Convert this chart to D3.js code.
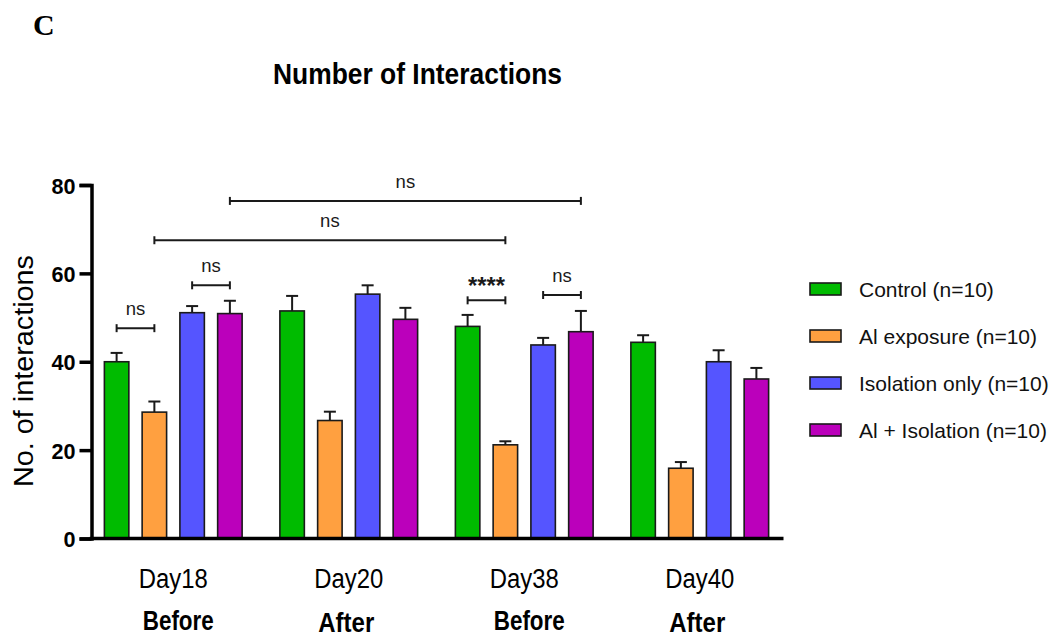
<!DOCTYPE html>
<html>
<head>
<meta charset="utf-8">
<script src="https://cdn.jsdelivr.net/npm/d3@7/dist/d3.min.js"></script>
<style>
  html, body { margin: 0; padding: 0; background: #fff; }
  svg { display: block; font-family: "Liberation Sans", Arial, Helvetica, sans-serif; }
</style>
</head>
<body>
<svg id="chart" width="1054" height="638"></svg>
<script>
// Time points and their exposure phase
const days = ["Day18", "Day20", "Day38", "Day40"];
const phases = ["Before", "After", "Before", "After"];

// Treatment groups
const groups = ["Control (n=10)", "Al exposure (n=10)", "Isolation only (n=10)", "Al + Isolation (n=10)"];
const colors = ["#00bb00", "#ffa040", "#5555ff", "#bb00bb"];

// Mean number of interactions per group, one entry per day
const controlMean   = [40.0, 51.5, 48.0, 44.4];
const alMean        = [28.6, 26.7, 21.2, 15.9];
const isolationMean = [51.1, 55.3, 43.8, 40.0];
const alIsoMean     = [50.9, 49.6, 46.8, 36.1];

// Standard error of each mean
const controlSem   = [2.0, 3.4, 2.6, 1.6];
const alSem        = [2.4, 2.0, 0.8, 1.4];
const isolationSem = [1.5, 2.0, 1.6, 2.6];
const alIsoSem     = [2.9, 2.6, 4.7, 2.5];

const yTicks = [0, 20, 40, 60, 80];

// Pairwise comparisons: [day, group] -> [day, group], bracket level, label
const comparisons = [
  { from: [0, 0], to: [0, 1], level: 47.6, label: "ns" },
  { from: [0, 2], to: [0, 3], level: 57.3, label: "ns" },
  { from: [0, 1], to: [2, 1], level: 67.5, label: "ns" },
  { from: [0, 3], to: [2, 3], level: 76.4, label: "ns" },
  { from: [2, 0], to: [2, 1], level: 53.9, label: "****" },
  { from: [2, 2], to: [2, 3], level: 55.1, label: "ns" }
];

const means = [controlMean, alMean, isolationMean, alIsoMean];
const sems = [controlSem, alSem, isolationSem, alIsoSem];

const rows = [];
days.forEach((d, di) => {
  groups.forEach((g, gi) => {
    rows.push({ day: d, dayIndex: di, group: g, groupIndex: gi, mean: means[gi][di], sem: sems[gi][di] });
  });
});

const svg = d3.select("#chart");
const ink = "#1a1a1a";

const x0 = d3.scaleBand().domain(days).range([85.5, 787.5]).paddingInner(0).paddingOuter(0);
const x1 = d3.scaleBand().domain(groups).range([0, x0.bandwidth()]).paddingInner(0.352).paddingOuter(0.5);
const y = d3.scaleLinear().domain([0, 80]).range([538.5, 185]);

const barCenter = (di, gi) => x0(days[di]) + x1(groups[gi]) + x1.bandwidth() / 2;

// Panel letter and title
svg.append("text")
  .attr("x", 33).attr("y", 35)
  .attr("font-family", "'Liberation Serif', 'Times New Roman', serif")
  .attr("font-weight", "bold").attr("font-size", 30)
  .text("C");

svg.append("text")
  .attr("x", 273).attr("y", 83.5)
  .attr("font-weight", "bold").attr("font-size", 30)
  .attr("textLength", 289).attr("lengthAdjust", "spacingAndGlyphs")
  .text("Number of Interactions");

// Error bars (drawn under the bars so only the upper whisker shows)
const err = svg.append("g").attr("stroke", ink).attr("stroke-width", 2);
err.selectAll("line.stem").data(rows).join("line")
  .attr("class", "stem")
  .attr("x1", d => barCenter(d.dayIndex, d.groupIndex))
  .attr("x2", d => barCenter(d.dayIndex, d.groupIndex))
  .attr("y1", d => y(d.mean))
  .attr("y2", d => y(d.mean + d.sem));
err.selectAll("line.cap").data(rows).join("line")
  .attr("class", "cap")
  .attr("x1", d => barCenter(d.dayIndex, d.groupIndex) - 6)
  .attr("x2", d => barCenter(d.dayIndex, d.groupIndex) + 6)
  .attr("y1", d => y(d.mean + d.sem))
  .attr("y2", d => y(d.mean + d.sem));

// Bars
svg.append("g").selectAll("rect").data(rows).join("rect")
  .attr("x", d => x0(d.day) + x1(d.group))
  .attr("y", d => y(d.mean))
  .attr("width", x1.bandwidth())
  .attr("height", d => y(0) - y(d.mean))
  .attr("fill", d => colors[d.groupIndex])
  .attr("stroke", ink)
  .attr("stroke-width", 1.6);

// Y axis
const yAxis = svg.append("g")
  .attr("transform", "translate(91.5,0)")
  .call(d3.axisLeft(y).tickValues(yTicks).tickSize(12).tickPadding(4).tickFormat(d3.format("d")));
yAxis.select(".domain").attr("stroke", "#000").attr("stroke-width", 3.5);
yAxis.selectAll(".tick line").attr("stroke", "#000").attr("stroke-width", 3.5);
yAxis.selectAll(".tick text")
  .attr("fill", "#000")
  .attr("font-family", "'Liberation Sans', Arial, sans-serif")
  .attr("font-weight", "bold").attr("font-size", 22.5)
  .attr("textLength", d => String(d).length * 12)
  .attr("lengthAdjust", "spacingAndGlyphs")
  .attr("dy", "0.36em");

// X axis baseline
svg.append("line")
  .attr("x1", 89.75).attr("x2", x0.range()[1] - 4)
  .attr("y1", y(0)).attr("y2", y(0))
  .attr("stroke", "#000").attr("stroke-width", 3.5);

// Category labels
svg.append("g").selectAll("text").data(days).join("text")
  .attr("x", d => x0(d) + x0.bandwidth() / 2)
  .attr("y", 588)
  .attr("text-anchor", "middle")
  .attr("font-size", 27)
  .attr("textLength", 69).attr("lengthAdjust", "spacingAndGlyphs")
  .text(d => d);

svg.append("g").selectAll("text").data(phases).join("text")
  .attr("x", (d, i) => x0(days[i]) + x0.bandwidth() / 2 + (d === "After" ? -2.5 : 5))
  .attr("y", d => d === "After" ? 632 : 629.5)
  .attr("text-anchor", "middle")
  .attr("font-weight", "bold")
  .attr("font-size", 27)
  .attr("textLength", d => d === "After" ? 56 : 71).attr("lengthAdjust", "spacingAndGlyphs")
  .text(d => d);

// Y axis title
svg.append("text")
  .attr("transform", "translate(33,371) rotate(-90)")
  .attr("text-anchor", "middle")
  .attr("font-size", 27)
  .attr("textLength", 232).attr("lengthAdjust", "spacingAndGlyphs")
  .text("No. of interactions");

// Significance brackets
const sig = svg.append("g").attr("stroke", ink).attr("stroke-width", 2);
comparisons.forEach(c => {
  const xa = barCenter(c.from[0], c.from[1]);
  const xb = barCenter(c.to[0], c.to[1]);
  const yy = y(c.level);
  sig.append("line").attr("x1", xa).attr("x2", xb).attr("y1", yy).attr("y2", yy);
  sig.append("line").attr("x1", xa).attr("x2", xa).attr("y1", yy - 4).attr("y2", yy + 4);
  sig.append("line").attr("x1", xb).attr("x2", xb).attr("y1", yy - 4).attr("y2", yy + 4);
  const stars = c.label.startsWith("*");
  const t = svg.append("text")
    .attr("x", (xa + xb) / 2)
    .attr("y", stars ? yy - 6 : yy - 13)
    .attr("text-anchor", "middle")
    .attr("font-size", stars ? 24 : 18.5)
    .attr("font-weight", stars ? "bold" : "normal")
    .attr("fill", ink)
    .text(c.label);
  if (stars) t.attr("textLength", 37).attr("lengthAdjust", "spacingAndGlyphs");
});

// Legend
const legend = svg.append("g").selectAll("g").data(groups).join("g")
  .attr("transform", (d, i) => `translate(810,${289 + i * 47})`);
legend.append("rect")
  .attr("x", 0).attr("y", -6)
  .attr("width", 31).attr("height", 12)
  .attr("fill", (d, i) => colors[i])
  .attr("stroke", ink).attr("stroke-width", 1.6);
legend.append("text")
  .attr("x", 49).attr("y", 7.5)
  .attr("font-size", 21)
  .attr("fill", "#111")
  .text(d => d);
</script>
</body>
</html>
